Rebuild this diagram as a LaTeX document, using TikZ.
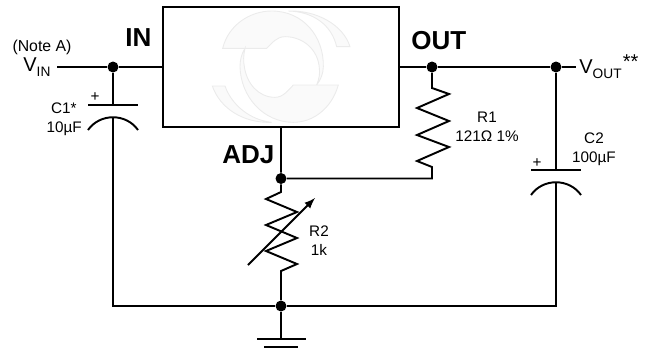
\documentclass[tikz,border=0pt]{standalone}
\usepackage{fontspec}
\setmainfont{Liberation Sans}
\usepackage{tikz}
\usetikzlibrary{calc,arrows}
\tikzset{
	wire/.style={draw=black,line width=1.1pt},
	junction/.style={circle,fill=black,inner sep=0pt,minimum size=0.22cm},
	logo/.style={fill=black!2,draw=black!8,line width=0.5pt},
	pinlabel/.style={inner sep=0pt,font=\fontsize{14.8}{16}\selectfont\bfseries},
	partlabel/.style={inner sep=0pt,font=\fontsize{8.7}{10}\selectfont},
	biglabel/.style={inner sep=0pt,font=\fontsize{11.4}{13}\selectfont}
}
\newcommand{\lowtext}[1]{\raisebox{-0.5ex}{\fontsize{7.8}{9}\selectfont #1}}
\begin{document}
\begin{tikzpicture}[x=0.02cm,y=-0.02cm]
\useasboundingbox (0,0) rectangle (649,353);
% regulator and the faint logo inside it
\node[wire,minimum width=4.72cm,minimum height=2.4cm,inner sep=0pt] (box) at (281,67) {};
	\begin{scope}[shift={(200,5)},x=0.00667cm,y=-0.00667cm]
	\path[logo] (68,130) .. controls (85,60) and (150,18) .. (215,18) .. controls (310,18) and (372,95) .. (370,185) .. controls (370,205) and (362,225) .. (350,240) .. controls (358,220) and (360,205) .. (358,190) .. controls (355,135) and (310,95) .. (255,95) .. controls (230,95) and (215,115) .. (200,130) -- cycle;
	\path[logo] (415,240) .. controls (395,310) and (340,352) .. (280,352) .. controls (190,352) and (122,275) .. (120,185) .. controls (120,165) and (125,145) .. (135,130) .. controls (130,150) and (130,170) .. (133,185) .. controls (140,235) and (175,277) .. (225,277) .. controls (250,277) and (265,255) .. (280,240) -- cycle;
	\path[logo] (265,18) .. controls (340,20) and (395,60) .. (410,125) -- (450,125) .. controls (430,60) and (350,15) .. (265,18) -- cycle;
	\path[logo] (37,243) -- (75,243) .. controls (95,300) and (150,345) .. (215,352) .. controls (130,355) and (60,310) .. (37,243) -- cycle;
	\end{scope}
% junctions and free ends
\node[junction] (jin) at (113,67) {};
\node[junction] (jrone) at (432,67) {};
\node[junction] (jout) at (556,67) {};
\node[junction] (jadj) at (281,178.5) {};
\node[junction] (jgnd) at (281,306) {};
\coordinate (vin) at (57,67);
\coordinate (vout) at (576,67);
\coordinate (cone) at (113,105);
\coordinate (conearc) at (113,117);
\coordinate (ctwo) at (556,170);
\coordinate (ctwoarc) at (556,182);
\coordinate (rone) at (432,88);
\coordinate (rtwo) at (281,192);
\coordinate (gnd) at (281,339);
% top rail
\draw[wire] (vin) -- (jin) -- (box.west);
\draw[wire] (box.east) -- (jrone) -- (jout) -- (vout);
% C1
\draw[wire] (jin) -- (cone);
\draw[wire] (cone) ++(-25,0) -- ++(50,0);
\draw[wire] (conearc) ++(-25,13) .. controls +(12,-17) and +(-12,-17) .. ++(50,0);
\draw[wire] (conearc) |- (jgnd);
% C2
\draw[wire] (jout) -- (ctwo);
\draw[wire] (ctwo) ++(-25,0) -- ++(50,0);
\draw[wire] (ctwoarc) ++(-25,13) .. controls +(12,-17) and +(-12,-17) .. ++(50,0);
\draw[wire] (ctwoarc) |- (jgnd);
% R1
\draw[wire] (jrone) -- (rone) -- ++(17,6) -- ++(-32,14) -- ++(32,13) -- ++(-32,14) -- ++(32,12) -- ++(-32,14) -- ++(15,6) |- (jadj);
% R2 and its arrow
\draw[wire] (box.south) -- (jadj) -- (rtwo) -- ++(-15,7) -- ++(31,13) -- ++(-31,13) -- ++(31,13) -- ++(-31,13) -- ++(31,13) -- ++(-16,7) -- (jgnd);
\draw[wire,-latex] (248,265) -- (315,198);
% ground
\draw[wire] (jgnd) -- (gnd);
\draw[wire] (gnd) ++(-24,0) -- ++(49,0);
\draw[wire] (gnd) ++(-17,8) -- ++(34,0);
% labels
\node[pinlabel,anchor=base west] (inlabel) at (125,46) {IN};
\node[pinlabel,anchor=base west] (outlabel) at (411,49) {OUT};
\node[pinlabel,anchor=base west] (adjlabel) at (222,163) {ADJ};
\node[partlabel,anchor=base] (notelabel) at (42,51) {\fontsize{9}{10}\selectfont (Note A)};
\node[biglabel,anchor=base west] (vinlabel) at (23,71) {V\lowtext{IN}};
\node[biglabel,anchor=base west] (voutlabel) at (579,73) {V\lowtext{OUT}};
\node[biglabel,anchor=base west] (starlabel) at (622.5,68) {**};
\node[partlabel,anchor=base east] (conelabel) at (77,113) {C1*};
\node[partlabel,anchor=base east] (conevalue) at (82,132) {10µF};
\node[partlabel] (coneplus) at (95,97) {+};
\node[partlabel,anchor=base] (ronelabel) at (487,122) {R1};
\node[partlabel,anchor=base] (ronevalue) at (487,141) {121Ω 1\%};
\node[partlabel,anchor=base] (ctwolabel) at (594,143) {C2};
\node[partlabel,anchor=base] (ctwovalue) at (594,162) {100µF};
\node[partlabel] (ctwoplus) at (537,163) {+};
\node[partlabel,anchor=base] (rtwolabel) at (319,236) {R2};
\node[partlabel,anchor=base] (rtwovalue) at (319,255) {1k};
\end{tikzpicture}
\end{document}
